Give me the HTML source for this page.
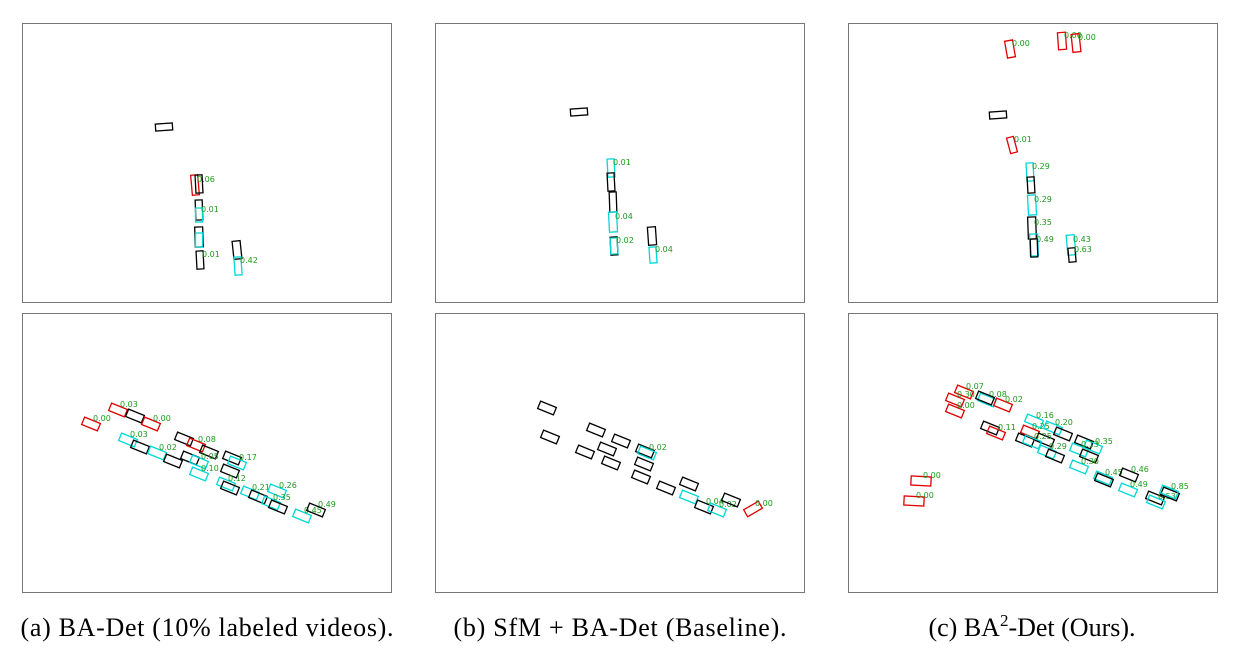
<!DOCTYPE html>
<html><head><meta charset="utf-8"><style>
html,body{margin:0;padding:0;background:#fff;width:1237px;height:659px;overflow:hidden}
svg{display:block}
.cap{font-family:"Liberation Serif",serif;font-size:26px;fill:#000}
.lb{font-family:"DejaVu Sans",sans-serif;font-size:8px;fill:#1a9a1a}
</style></head><body>
<svg id="fig" width="1237" height="659">
<g>
<rect x="22.5" y="23.5" width="369" height="279" fill="none" stroke="#777"/>
<rect x="435.5" y="23.5" width="369" height="279" fill="none" stroke="#777"/>
<rect x="848.5" y="23.5" width="369" height="279" fill="none" stroke="#777"/>
<rect x="22.5" y="313.5" width="369" height="279" fill="none" stroke="#777"/>
<rect x="435.5" y="313.5" width="369" height="279" fill="none" stroke="#777"/>
<rect x="848.5" y="313.5" width="369" height="279" fill="none" stroke="#777"/>
</g>
<g id="boxes"></g>
<text class="cap" x="207" y="636" text-anchor="middle" textLength="373">(a) BA-Det (10% labeled videos).</text>
<text class="cap" x="620" y="636" text-anchor="middle" textLength="333">(b) SfM + BA-Det (Baseline).</text>
<text class="cap" x="1032" y="636" text-anchor="middle">(c) BA<tspan dy="-10" font-size="17">2</tspan><tspan dy="10">-Det (Ours).</tspan></text>
</svg>
<script>
// box: [cx, cy, w, h, angleDeg, color, label]
const K='#000',C='#00d8d8',R='#e00000';
const boxesTop=[
[164,127,17,7,-4,K,''],[195,185,7,20,-5,R,'0.06'],[199,184,7,18,-3,K,''],[199,210,7,20,-2,K,''],[199,215,7,14,0,C,'0.01'],[199,237,8,20,-2,K,''],[199,240,7,14,0,C,''],[200,260,7,18,-3,K,'0.01'],[237,250,8,18,-6,K,''],[238,266,7,18,-4,C,'0.42'],
[579,112,17,7,-4,K,''],[611,168,7,18,-3,C,'0.01'],[611,182,7,18,-3,K,''],[613,202,7,20,-2,K,''],[613,222,8,20,-3,C,'0.04'],[614,246,7,18,-3,K,''],[614,246,7,16,-3,C,'0.02'],[652,236,8,18,-4,K,''],[653,255,7,16,-4,C,'0.04'],
[1010,49,8,17,-10,R,'0.00'],[1062,41,8,17,-4,R,'0.00'],[1076,43,8,18,-6,R,'0.00'],[998,115,17,7,-4,K,''],[1012,145,7,16,-15,R,'0.01'],
[1030,172,7,18,-3,C,'0.29'],[1031,185,7,16,-3,K,''],[1032,205,8,20,-3,C,'0.29'],[1032,228,8,22,-2,K,'0.35'],[1034,245,8,22,-2,C,'0.49'],[1034,248,7,18,-2,K,''],[1071,245,8,20,-5,C,'0.43'],[1072,255,7,14,-5,K,'0.63']
];
const boxesBottom=[
[91,424,17,8,22,R,'0.00'],[118,410,17,8,22,R,'0.03'],[135,416,17,8,22,K,''],[151,424,17,8,22,R,'0.00'],[128,440,17,8,22,C,'0.03'],[140,447,17,8,22,K,''],[157,453,17,8,22,C,'0.02'],[173,461,17,8,22,K,''],[184,439,17,8,22,K,''],[196,445,17,8,22,R,'0.08'],[209,452,17,8,22,K,''],[190,458,17,8,22,K,''],[199,462,17,8,22,C,'0.05'],[199,474,17,8,22,C,'0.10'],[232,458,17,8,22,K,''],[237,463,17,8,22,C,'0.17'],[230,471,17,8,22,K,''],[226,484,17,8,22,C,'0.12'],[230,488,17,8,22,K,''],[250,493,17,8,22,C,'0.21'],[258,497,17,8,22,K,''],[277,491,17,8,22,C,'0.26'],[271,503,17,8,22,C,'0.35'],[278,507,17,8,22,K,''],[302,516,17,8,22,C,'0.45'],[316,510,17,8,22,K,'0.49'],
[547,408,17,8,22,K,''],[550,437,17,8,22,K,''],[596,430,17,8,22,K,''],[585,452,17,8,22,K,''],[607,449,17,8,22,K,''],[621,441,17,8,22,K,''],[611,463,17,8,22,K,''],[641,477,17,8,22,K,''],[644,464,17,8,22,K,''],[645,451,17,8,22,K,''],[647,453,17,8,22,C,'0.02'],[666,488,17,8,22,K,''],[689,484,17,8,22,K,''],[689,497,17,8,22,C,''],[704,507,17,8,22,K,'0.04'],[717,510,17,8,22,C,'0.02'],[731,500,17,8,22,K,''],[753,509,17,8,-30,R,'0.00'],
[964,392,17,8,22,R,'0.07'],[955,400,17,8,22,R,'0.30'],[955,411,17,8,22,R,'0.00'],[987,400,17,8,22,C,'0.08'],[985,398,17,8,22,K,''],[1003,405,17,8,22,R,'0.02'],[990,428,17,8,22,K,''],[996,433,17,8,22,R,'0.11'],[1034,421,17,8,22,C,'0.16'],[1030,432,17,8,22,R,'0.25'],[1053,428,17,8,22,C,'0.20'],[1063,434,17,8,22,K,''],[1045,440,17,8,22,K,''],[1025,440,17,8,22,K,''],[1032,442,17,8,22,C,'0.25'],[1047,452,17,8,22,C,'0.29'],[1055,456,17,8,22,K,''],[1084,442,17,8,22,K,''],[1093,447,17,8,22,C,'0.35'],[1079,450,17,8,22,C,'0.13'],[1089,456,17,8,22,K,''],[1079,467,17,8,22,C,'0.30'],[1103,478,17,8,22,C,'0.45'],[1104,480,17,8,22,K,''],[1129,475,17,8,22,K,'0.46'],[1128,490,17,8,22,C,'0.49'],[921,481,20,9,3,R,'0.00'],[914,501,20,9,3,R,'0.00'],[1155,498,17,8,22,K,''],[1156,502,17,8,22,C,'0.53'],[1170,494,17,8,22,K,''],[1169,492,17,8,22,C,'0.85']
];
const g=document.getElementById('boxes');
const NS='http://www.w3.org/2000/svg';
function draw(list){
  list.forEach(b=>{
    const r=document.createElementNS(NS,'rect');
    r.setAttribute('x',b[0]-b[2]/2);r.setAttribute('y',b[1]-b[3]/2);
    r.setAttribute('width',b[2]);r.setAttribute('height',b[3]);
    r.setAttribute('transform','rotate('+b[4]+' '+b[0]+' '+b[1]+')');
    r.setAttribute('fill','none');r.setAttribute('stroke',b[5]);r.setAttribute('stroke-width','1.3');
    
    
    g.appendChild(r);
    if(b[6]){
      const t=document.createElementNS(NS,'text');
      t.setAttribute('x',b[0]+2);t.setAttribute('y',b[1]-3);
      t.setAttribute('class','lb');t.textContent=b[6];
      
      
      g.appendChild(t);
    }
  });
}
draw(boxesTop);draw(boxesBottom);
</script>
</body></html>
